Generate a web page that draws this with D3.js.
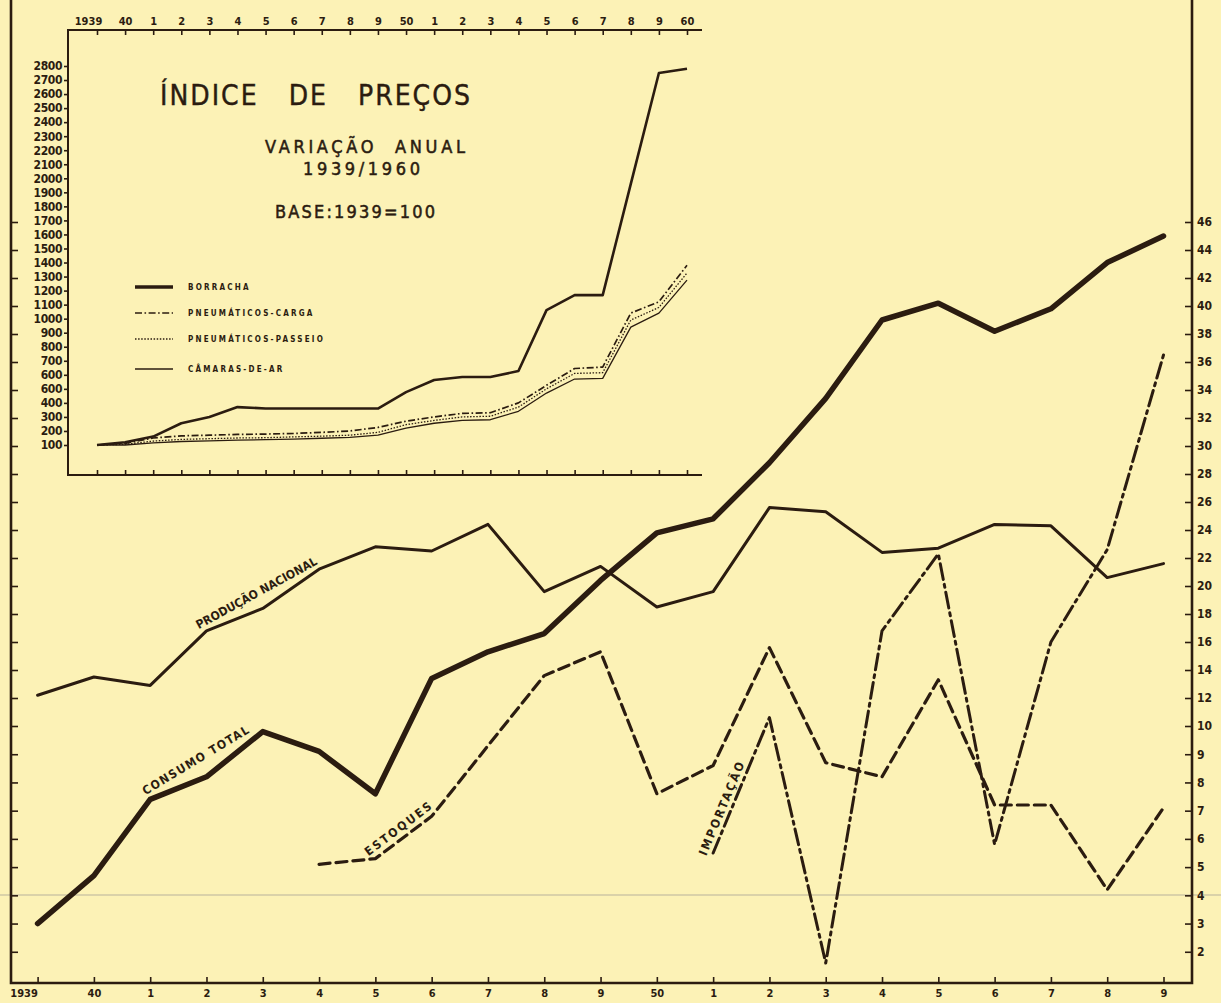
<!DOCTYPE html>
<html lang="pt">
<head>
<meta charset="utf-8">
<title>Índice de Preços</title>
<script src="https://cdn.jsdelivr.net/npm/d3@7/dist/d3.min.js"></script>
<style>
  html, body { margin: 0; padding: 0; background: #fcf2b6; }
  #chart text { font-family: "DejaVu Sans Condensed", "DejaVu Sans", sans-serif; fill: #2b1c10; }
</style>
</head>
<body>
<div id="chart"></div>
<script>
// grafico principal (milhares de t)
const anos = [1939, 1940, 1941, 1942, 1943, 1944, 1945, 1946, 1947, 1948, 1949,
              1950, 1951, 1952, 1953, 1954, 1955, 1956, 1957, 1958, 1959];
const rotulosAnos = ["1939", "40", "1", "2", "3", "4", "5", "6", "7", "8", "9",
                     "50", "1", "2", "3", "4", "5", "6", "7", "8", "9"];
const ticksDireita = [2, 3, 4, 5, 6, 7, 8, 9, 10, 12, 14, 16, 18, 20, 22, 24, 26, 28,
                      30, 32, 34, 36, 38, 40, 42, 44, 46];

const producaoNacional = [12.2, 13.5, 12.9, 16.8, 18.4, 21.2, 22.8, 22.5, 24.4, 19.6, 21.4,
                          18.5, 19.6, 25.6, 25.3, 22.4, 22.7, 24.4, 24.3, 20.6, 21.6];
const consumoTotal = [3.0, 4.7, 7.4, 8.2, 9.8, 9.1, 7.6, 13.4, 15.3, 16.6, 20.4,
                      23.8, 24.8, 28.8, 33.4, 39.0, 40.2, 38.2, 39.8, 43.1, 45.0];
const anosEstoques = [1944, 1945, 1946, 1947, 1948, 1949, 1950, 1951, 1952, 1953, 1954,
                      1955, 1956, 1957, 1958, 1959];
const estoques = [5.1, 5.3, 6.8, 9.3, 13.6, 15.3, 7.6, 8.6, 15.6, 8.7, 8.2,
                  13.3, 7.2, 7.2, 4.2, 7.1];
const anosImportacao = [1951, 1952, 1953, 1954, 1955, 1956, 1957, 1958, 1959];
const importacao = [5.5, 10.6, 1.6, 16.8, 22.3, 5.8, 16.0, 22.6, 36.5];

// quadro do indice de precos
const anosIndice = [1939, 1940, 1941, 1942, 1943, 1944, 1945, 1946, 1947, 1948, 1949,
                    1950, 1951, 1952, 1953, 1954, 1955, 1956, 1957, 1958, 1959, 1960];
const rotulosIndice = ["1939", "40", "1", "2", "3", "4", "5", "6", "7", "8", "9",
                       "50", "1", "2", "3", "4", "5", "6", "7", "8", "9", "60"];
const ticksIndice = [100, 200, 300, 400, 500, 600, 700, 800, 900, 1000, 1100, 1200, 1300, 1400,
                     1500, 1600, 1700, 1800, 1900, 2000, 2100, 2200, 2300, 2400, 2500, 2600, 2700, 2800];
const rotulosTicksIndice = ["100", "200", "300", "400", "600", "600", "700", "800", "900", "1000",
                            "1100", "1200", "1300", "1400", "1500", "1600", "1700", "1800", "1900",
                            "2000", "2100", "2200", "2300", "2400", "2500", "2600", "2700", "2800"];
const borracha = [100, 120, 160, 255, 300, 370, 360, 360, 360, 360, 360,
                  477, 563, 584, 584, 627, 1061, 1168, 1168, 1960, 2750, 2780];
const pneusCarga = [100, 112, 150, 165, 170, 175, 178, 182, 190, 200, 225,
                    270, 300, 325, 330, 400, 525, 645, 655, 1040, 1120, 1380];
const pneusPasseio = [100, 105, 128, 140, 145, 150, 152, 158, 163, 170, 190,
                      245, 275, 300, 305, 370, 500, 610, 615, 990, 1080, 1325];
const camarasDeAr = [100, 100, 115, 125, 130, 135, 138, 142, 148, 155, 170,
                     220, 255, 275, 280, 340, 470, 570, 575, 940, 1040, 1275];
const legendaIndice = ["BORRACHA", "PNEUMÁTICOS-CARGA", "PNEUMÁTICOS-PASSEIO", "CÂMARAS-DE-AR"];

class GraficoBorracha {
    constructor(){
        this.width = 1221;
        this.height = 1003;
        this.ink = "#2b1c10";
        this.svg;

        this.xScale;
        this.yScale;
        this.xIndice;
        this.yIndice;

        // moldura do grafico principal
        this.left = 11;
        this.right = 1192;
        this.bottom = 983;

        // moldura do quadro
        this.boxLeft = 68;
        this.boxRight = 702;
        this.boxTop = 30;
        this.boxBottom = 475;
    }

    init(){
        this.initScales();
        this.svg = d3.select("#chart")
                    .append("svg")
                    .attr("width", this.width)
                    .attr("height", this.height);
        this.svg.append("rect")
            .attr("width", this.width)
            .attr("height", this.height)
            .attr("fill", "#fcf2b6");
        // risco da digitalizacao
        this.svg.append("line")
            .attr("x1", 0).attr("x2", this.width)
            .attr("y1", 895).attr("y2", 895)
            .attr("stroke", "#cfc7a4").attr("stroke-width", 1.5);
    }

    initScales(){
        this.xScale = d3.scaleLinear().domain([1939, 1959]).range([37.6, 1163.5]);
        this.yScale = d3.scaleLinear().domain([1, 10, 46]).range([980, 726, 222]);
        this.xIndice = d3.scaleLinear().domain([1939, 1960]).range([97, 687]);
        this.yIndice = d3.scaleLinear().domain([100, 2800]).range([445, 66]);
    }

    pares(xs, vs){
        return xs.map((a, i) => ({ano: a, v: vs[i]}));
    }

    styleAxis(g, size){
        g.select(".domain").remove();
        g.selectAll("line").attr("stroke", this.ink).attr("stroke-width", 1.6);
        g.selectAll("text")
            .attr("fill", this.ink)
            .style("font-size", size + "px")
            .style("font-weight", "bold");
    }

    drawAxes(){
        var g = this.svg.append("g");
        g.append("path")
            .attr("d", `M${this.left},0V${this.bottom}H${this.right}V0`)
            .attr("fill", "none")
            .attr("stroke", this.ink)
            .attr("stroke-width", 2.6);

        var bx = g.append("g")
            .attr("transform", `translate(0,${this.bottom})`)
            .call(d3.axisBottom(this.xScale).tickValues(anos)
                .tickFormat((d, i) => rotulosAnos[i]).tickSizeInner(-6).tickSizeOuter(0).tickPadding(6));
        this.styleAxis(bx, 11);
        bx.selectAll("text").filter((d, i) => i == 0).attr("dx", -14);

        var ry = g.append("g")
            .attr("transform", `translate(${this.right},0)`)
            .call(d3.axisRight(this.yScale).tickValues(ticksDireita)
                .tickFormat(d3.format("d")).tickSizeInner(-7).tickSizeOuter(0).tickPadding(5));
        this.styleAxis(ry, 12);

        var ly = g.append("g")
            .attr("transform", `translate(${this.left},0)`)
            .call(d3.axisLeft(this.yScale).tickValues(ticksDireita).tickSizeInner(-7).tickSizeOuter(0));
        this.styleAxis(ly, 10);
        ly.selectAll("text").remove();
    }

    drawSeries(){
        var _this = this;
        var line = d3.line()
            .x(d => _this.xScale(d.ano))
            .y(d => _this.yScale(d.v));

        var series = [
            {dados: this.pares(anos, producaoNacional), w: 3, dash: null},
            {dados: this.pares(anos, consumoTotal), w: 5.5, dash: null},
            {dados: this.pares(anosEstoques, estoques), w: 3.2, dash: "11,6"},
            {dados: this.pares(anosImportacao, importacao), w: 3, dash: "16,5,3,5"}
        ];
        this.svg.append("g").selectAll("path")
            .data(series)
            .enter()
            .append("path")
            .attr("d", d => line(d.dados))
            .attr("fill", "none")
            .attr("stroke", this.ink)
            .attr("stroke-width", d => d.w)
            .attr("stroke-dasharray", d => d.dash)
            .attr("stroke-linejoin", "round")
            .attr("stroke-linecap", "round");

        // rotulos ao longo das linhas
        var pt = (a, v) => [_this.xScale(a), _this.yScale(v)];
        var ang = (p, q) => Math.atan2(q[1] - p[1], q[0] - p[0]) * 180 / Math.PI;
        var rotulos = [
            {t: "PRODUÇÃO  NACIONAL", p: pt(1942, producaoNacional[3]), q: pt(1944, producaoNacional[5]), dx: -6, dy: -5, len: 136},
            {t: "CONSUMO  TOTAL", p: pt(1941, consumoTotal[2]), q: pt(1943, consumoTotal[4]), dx: -2, dy: -6, len: 122},
            {t: "ESTOQUES", p: pt(1945, estoques[1]), q: pt(1946, estoques[2]), dx: -4, dy: -6, len: 80},
            {t: "IMPORTAÇÃO", p: pt(1951, importacao[0]), q: pt(1952, importacao[1]), dx: -6, dy: -5, len: 100}
        ];
        this.svg.append("g").selectAll("text")
            .data(rotulos)
            .enter()
            .append("text")
            .attr("transform", d => `translate(${d.p[0]},${d.p[1]}) rotate(${ang(d.p, d.q)})`)
            .attr("x", d => d.dx)
            .attr("y", d => d.dy)
            .attr("textLength", d => d.len)
            .attr("lengthAdjust", "spacing")
            .style("font-size", "12px")
            .style("font-weight", "bold")
            .text(d => d.t);
    }

    drawIndice(){
        var _this = this;
        var g = this.svg.append("g");

        g.append("path")
            .attr("d", `M${this.boxRight},${this.boxTop}H${this.boxLeft}V${this.boxBottom}H${this.boxRight}`)
            .attr("fill", "none")
            .attr("stroke", this.ink)
            .attr("stroke-width", 2);

        var top = g.append("g")
            .attr("transform", `translate(0,${this.boxTop})`)
            .call(d3.axisTop(this.xIndice).tickValues(anosIndice)
                .tickFormat((d, i) => rotulosIndice[i]).tickSizeInner(-5).tickSizeOuter(0).tickPadding(5));
        this.styleAxis(top, 11);
        top.selectAll("text").filter((d, i) => i == 0).attr("dx", -9);

        var bot = g.append("g")
            .attr("transform", `translate(0,${this.boxBottom})`)
            .call(d3.axisBottom(this.xIndice).tickValues(anosIndice).tickSizeInner(-5).tickSizeOuter(0));
        this.styleAxis(bot, 10);
        bot.selectAll("text").remove();

        var left = g.append("g")
            .attr("transform", `translate(${this.boxLeft},0)`)
            .call(d3.axisLeft(this.yIndice).tickValues(ticksIndice)
                .tickFormat((d, i) => rotulosTicksIndice[i]).tickSizeInner(4).tickSizeOuter(0).tickPadding(2));
        this.styleAxis(left, 12);
        left.selectAll("text").attr("letter-spacing", "-0.4");

        var line = d3.line()
            .x(d => _this.xIndice(d.ano))
            .y(d => _this.yIndice(d.v));
        var series = [
            {dados: this.pares(anosIndice, camarasDeAr), w: 1.3, dash: null},
            {dados: this.pares(anosIndice, pneusPasseio), w: 1.3, dash: "1.5,1.6"},
            {dados: this.pares(anosIndice, pneusCarga), w: 1.7, dash: "7,2.5,1.6,2.5"},
            {dados: this.pares(anosIndice, borracha), w: 2.6, dash: null}
        ];
        g.append("g").selectAll("path")
            .data(series)
            .enter()
            .append("path")
            .attr("d", d => line(d.dados))
            .attr("fill", "none")
            .attr("stroke", this.ink)
            .attr("stroke-width", d => d.w)
            .attr("stroke-dasharray", d => d.dash)
            .attr("stroke-linejoin", "round");

        // legenda
        var estilos = [
            {w: 3.5, dash: null, y: 287},
            {w: 1.7, dash: "7,2.5,1.6,2.5", y: 313},
            {w: 1.3, dash: "1.5,1.6", y: 339},
            {w: 1.3, dash: null, y: 369}
        ];
        var leg = g.append("g").selectAll("g")
            .data(legendaIndice)
            .enter()
            .append("g")
            .attr("transform", (d, i) => `translate(135,${estilos[i].y})`);
        leg.append("line")
            .attr("x2", 38)
            .attr("stroke", this.ink)
            .attr("stroke-width", (d, i) => estilos[i].w)
            .attr("stroke-dasharray", (d, i) => estilos[i].dash);
        leg.append("text")
            .attr("x", 53)
            .attr("y", 3)
            .attr("letter-spacing", "2.2")
            .style("font-size", "8px")
            .style("font-weight", "bold")
            .text(d => d);

        // titulos
        var titulos = [
            {t: "ÍNDICE   DE   PREÇOS", x: 160, y: 105, len: 310, size: 28, sw: 0.4},
            {t: "VARIAÇÃO  ANUAL", x: 265, y: 153, len: 200, size: 18, sw: 0.5},
            {t: "1939/1960", x: 303, y: 175, len: 117, size: 18, sw: 0.5},
            {t: "BASE:1939=100", x: 275, y: 218, len: 160, size: 18, sw: 0.5}
        ];
        g.append("g").selectAll("text")
            .data(titulos)
            .enter()
            .append("text")
            .attr("x", d => d.x)
            .attr("y", d => d.y)
            .attr("textLength", d => d.len)
            .attr("lengthAdjust", "spacing")
            .attr("stroke", this.ink)
            .attr("stroke-width", d => d.sw)
            .style("white-space", "pre")
            .style("font-size", d => d.size + "px")
            .text(d => d.t);
    }

    draw(){
        this.drawAxes();
        this.drawSeries();
        this.drawIndice();
    }
}

const grafico = new GraficoBorracha();
grafico.init();
grafico.draw();
</script>
</body>
</html>
